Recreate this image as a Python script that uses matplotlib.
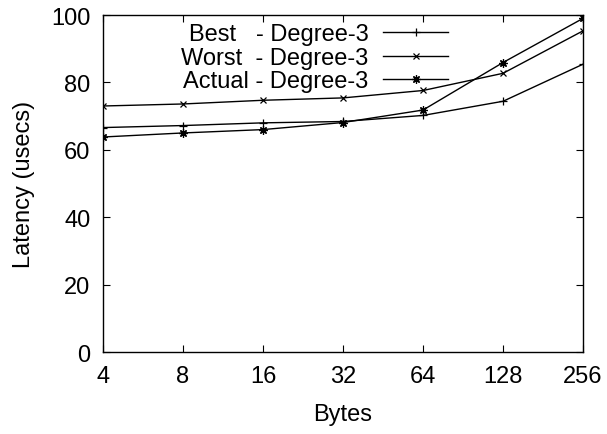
import numpy as np
import matplotlib
matplotlib.use("Agg")
import matplotlib.pyplot as plt
from matplotlib.ticker import FixedLocator, NullLocator

plt.rcParams['font.family'] = ['Liberation Sans', 'DejaVu Sans']

# message sizes (bytes) and latencies (usecs)
sizes = [4, 8, 16, 32, 64, 128, 256]
best = [66.6, 67.2, 68.0, 68.4, 70.2, 74.4, 85.4]
worst = [73.0, 73.6, 74.7, 75.4, 77.6, 82.7, 95.3]
actual = [63.8, 65.0, 66.0, 68.1, 71.8, 85.9, 99.0]

labels = ['Best   - Degree-3', 'Worst  - Degree-3', 'Actual - Degree-3']

fig = plt.figure(figsize=(6.07, 4.35), dpi=100)
ax = fig.add_axes([0.1697, 0.1885, 0.7908, 0.7747])

ax.plot(sizes, best, color='black', lw=1, marker='+', ms=6, mew=0.9, label=labels[0])
ax.plot(sizes, worst, color='black', lw=1, marker='x', ms=5, mew=0.9, label=labels[1])
ax.plot(sizes, actual, color='black', lw=1, marker=(8, 2, 0), ms=6, mew=0.9, label=labels[2])

ax.set_xscale('log', base=2)
ax.set_xlim(4, 256)
ax.set_ylim(0, 100)
ax.xaxis.set_major_locator(FixedLocator(sizes))
ax.xaxis.set_minor_locator(NullLocator())
ax.set_xticklabels([str(s) for s in sizes])
ax.set_yticks(np.arange(0, 101, 20))

ax.tick_params(direction='in', length=5, width=0.8, top=True, right=True,
               labelsize=17)
ax.tick_params(axis='x', pad=9)
ax.tick_params(axis='y', pad=9)
for sp in ax.spines.values():
    sp.set_linewidth(1.0)

ax.set_xlabel('Bytes', fontsize=17)
ax.set_ylabel('Latency (usecs)', fontsize=17)
ax.xaxis.set_label_coords(0.5, -0.152)
ax.yaxis.set_label_coords(-0.142, 0.5)

ax.legend(loc='upper right', bbox_to_anchor=(0.719, 0.975), frameon=False,
          markerfirst=False, fontsize=17, handlelength=2.75, handletextpad=0.63,
          labelspacing=0.06, borderpad=0, borderaxespad=0)

fig.savefig('out.png', dpi=100)
